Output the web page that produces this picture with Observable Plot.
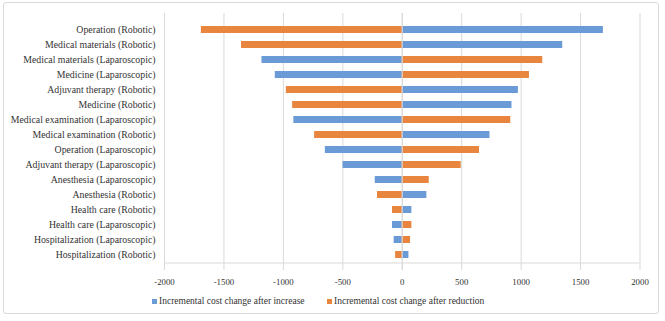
<!DOCTYPE html>
<html>
<head>
<meta charset="utf-8">
<script src="https://cdn.jsdelivr.net/npm/d3@7"></script>
<script src="https://cdn.jsdelivr.net/npm/@observablehq/plot@0.6"></script>
<style>
  html, body { margin: 0; padding: 0; background: #fff; }
  #wrap { position: relative; width: 665px; height: 321px; font-family: 'Liberation Serif', 'Times New Roman', serif; }
  #frame { position: absolute; left: 3px; top: 2px; width: 656px; height: 312px; border: 1px solid #d9d9d9; border-radius: 3px; box-sizing: border-box; pointer-events: none; }
  #chart { position: absolute; left: 0; top: 0; }
  #chart svg, #chart svg text { font-family: 'Liberation Serif', 'Times New Roman', serif !important; }
  .legend { position: absolute; top: 295px; font-size: 9.5px; line-height: 12px; color: #333; white-space: nowrap; display: flex; align-items: center; }
  .legend span.sw { display: inline-block; width: 5px; height: 5px; margin-right: 2px; }
</style>
</head>
<body>
<div id="wrap">
  <div id="chart"></div>
  <div id="frame"></div>
</div>
<script>
const categories = [
  "Operation (Robotic)",
  "Medical materials (Robotic)",
  "Medical materials (Laparoscopic)",
  "Medicine (Laparoscopic)",
  "Adjuvant therapy (Robotic)",
  "Medicine (Robotic)",
  "Medical examination (Laparoscopic)",
  "Medical examination (Robotic)",
  "Operation (Laparoscopic)",
  "Adjuvant therapy (Laparoscopic)",
  "Anesthesia (Laparoscopic)",
  "Anesthesia (Robotic)",
  "Health care (Robotic)",
  "Health care (Laparoscopic)",
  "Hospitalization (Laparoscopic)",
  "Hospitalization (Robotic)"
];
const afterIncrease = [1692, 1350, -1180, -1068, 977, 923, -912, 738, -647, -498, -227, 207, 81, -82, -68, 56];
const afterReduction = [-1690, -1352, 1182, 1070, -975, -922, 913, -737, 650, 496, 227, -208, -82, 81, 70, -56];
const seriesNames = ["Incremental cost change after increase", "Incremental cost change after reduction"];
const seriesColors = ["#6a9bd6", "#e8853f"];
const xTicks = [-2000, -1500, -1000, -500, 0, 500, 1000, 1500, 2000];

const rows = [];
categories.forEach((c, i) => {
  rows.push({cat: c, series: seriesNames[0], value: afterIncrease[i]});
  rows.push({cat: c, series: seriesNames[1], value: afterReduction[i]});
});

const chart = Plot.plot({
  width: 665,
  height: 321,
  marginLeft: 164,
  marginRight: 25.5,
  marginTop: 13,
  marginBottom: 51,
  style: { fontFamily: "'Liberation Serif', 'Times New Roman', serif", color: "#333", background: "transparent" },
  x: { domain: [-2000, 2000], ticks: xTicks, tickFormat: d => String(d), label: null },
  y: { domain: categories, padding: 0.55, label: null },
  color: { domain: seriesNames, range: seriesColors },
  marks: [
    Plot.gridX(xTicks, { stroke: "#d9d9d9", strokeOpacity: 1, strokeWidth: 1 }),
    Plot.barX(rows, { y: "cat", x1: 0, x2: "value", fill: "series" }),
    Plot.ruleX([0], { stroke: "#d9d9d9", strokeWidth: 1 }),
    Plot.ruleY([categories[categories.length - 1]], { x1: -2000, x2: 2000, dy: 8, stroke: "#d9d9d9" }),
    Plot.axisX({ ticks: xTicks, tickSize: 0, tickPadding: 8, fontSize: 8.8, fill: "#333", tickFormat: d => String(d), label: null }),
    Plot.axisY({ tickSize: 0, tickPadding: 9, fontSize: 9.8, fill: "#333", label: null })
  ]
});
document.getElementById("chart").appendChild(chart);

const wrap = document.getElementById("wrap");
const legendX = [152, 327];
seriesNames.forEach((name, i) => {
  const d = document.createElement("div");
  d.className = "legend";
  d.style.left = legendX[i] + "px";
  const sw = document.createElement("span");
  sw.className = "sw";
  sw.style.background = seriesColors[i];
  d.appendChild(sw);
  d.appendChild(document.createTextNode(name));
  wrap.appendChild(d);
});
</script>
</body>
</html>
